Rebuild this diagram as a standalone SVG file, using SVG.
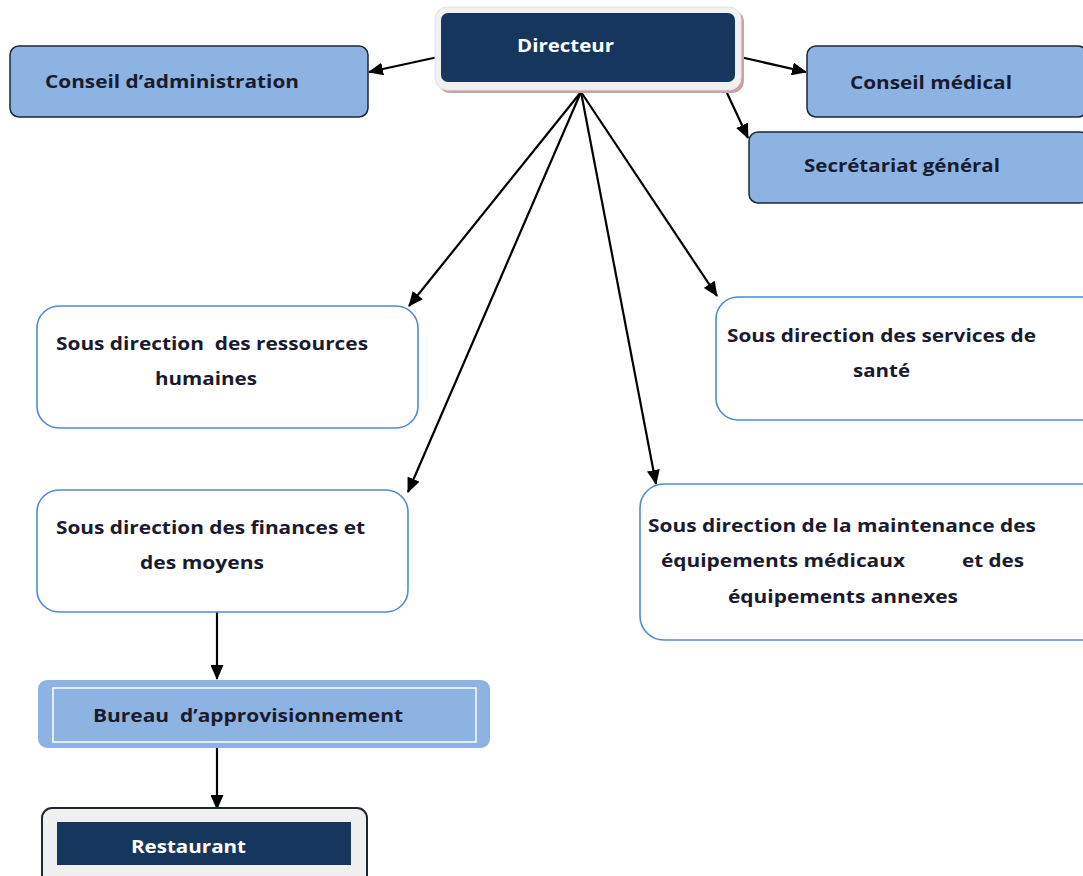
<svg xmlns="http://www.w3.org/2000/svg" width="1083" height="876" viewBox="0 0 1083 876">
<defs>
<marker id="ah" markerUnits="userSpaceOnUse" markerWidth="15" markerHeight="13" refX="14" refY="6.5" orient="auto">
<path d="M0,0 L15,6.5 L0,13 Z" fill="#000"/>
</marker>
<style>
.t{font-family:"Open Sans","Liberation Sans",sans-serif;font-weight:700;font-size:18px;fill:#1a1b2e;white-space:pre}
.w{font-family:"Open Sans","Liberation Sans",sans-serif;font-weight:700;font-size:18px;fill:#ffffff}
.blue{fill:#8db3e2;stroke:#1e2633;stroke-width:1.5}
.sub{fill:#ffffff;stroke:#4f8cd0;stroke-width:1.6}
.c{stroke:#000;stroke-width:2.2;fill:none;marker-end:url(#ah)}
</style>
</defs>
<rect width="1083" height="876" fill="#ffffff"/>
<g id="connectors">
<line class="c" x1="438" y1="57" x2="369" y2="72"/>
<line class="c" x1="740" y1="57" x2="806" y2="72"/>
<line class="c" x1="727" y1="93" x2="748" y2="138"/>
<line class="c" x1="581" y1="92" x2="409" y2="306"/>
<line class="c" x1="581" y1="92" x2="408" y2="492"/>
<line class="c" x1="581" y1="92" x2="656" y2="484"/>
<line class="c" x1="581" y1="92" x2="717" y2="296"/>
<line class="c" x1="217" y1="612" x2="217" y2="679"/>
<line class="c" x1="217" y1="748" x2="217" y2="809"/>
</g>
<g id="directeur">
<rect x="438" y="10" width="306" height="83" rx="12" fill="#c9a3a3"/>
<rect x="435" y="7" width="306" height="83" rx="12" fill="#f1f1f1" stroke="#e2e2e2" stroke-width="1"/>
<rect x="441" y="13" width="294" height="69" rx="7" fill="#17365d"/>
<text class="w" x="517" y="52" textLength="97" lengthAdjust="spacingAndGlyphs">Directeur</text>
</g>
<g id="conseil-administration">
<rect class="blue" x="10" y="46" width="358" height="71" rx="9"/>
<text class="t" x="45" y="88" textLength="254" lengthAdjust="spacingAndGlyphs">Conseil d’administration</text>
</g>
<g id="conseil-medical">
<rect class="blue" x="807" y="46" width="280" height="71" rx="9"/>
<text class="t" x="850" y="89" textLength="162" lengthAdjust="spacingAndGlyphs">Conseil médical</text>
</g>
<g id="secretariat-general">
<rect class="blue" x="749" y="132" width="340" height="71" rx="9"/>
<text class="t" x="804" y="172" textLength="196" lengthAdjust="spacingAndGlyphs">Secrétariat général</text>
</g>
<g id="sd-ressources-humaines">
<rect class="sub" x="37" y="306" width="381" height="122" rx="22"/>
<text class="t" x="56" y="350" xml:space="preserve" textLength="312" lengthAdjust="spacingAndGlyphs">Sous direction  des ressources</text>
<text class="t" x="155" y="385" textLength="102" lengthAdjust="spacingAndGlyphs">humaines</text>
</g>
<g id="sd-finances">
<rect class="sub" x="37" y="490" width="371" height="122" rx="22"/>
<text class="t" x="56" y="534" textLength="309" lengthAdjust="spacingAndGlyphs">Sous direction des finances et</text>
<text class="t" x="140" y="569" textLength="124" lengthAdjust="spacingAndGlyphs">des moyens</text>
</g>
<g id="sd-services-sante">
<rect class="sub" x="716" y="297" width="390" height="123" rx="22"/>
<text class="t" x="727" y="342" textLength="309" lengthAdjust="spacingAndGlyphs">Sous direction des services de</text>
<text class="t" x="853" y="377" textLength="57" lengthAdjust="spacingAndGlyphs">santé</text>
</g>
<g id="sd-maintenance">
<rect class="sub" x="640" y="484" width="466" height="156" rx="24"/>
<text class="t" x="648" y="532" textLength="388" lengthAdjust="spacingAndGlyphs">Sous direction de la maintenance des</text>
<text class="t" x="661" y="567" textLength="244" lengthAdjust="spacingAndGlyphs">équipements médicaux</text>
<text class="t" x="962" y="567" textLength="62" lengthAdjust="spacingAndGlyphs">et des</text>
<text class="t" x="728" y="603" textLength="230" lengthAdjust="spacingAndGlyphs">équipements annexes</text>
</g>
<g id="bureau-approvisionnement">
<rect x="38" y="680" width="452" height="68" rx="9" fill="#8db3e2"/>
<rect x="53" y="688" width="423" height="54" fill="none" stroke="#ffffff" stroke-width="1.5"/>
<text class="t" x="93" y="722" xml:space="preserve" textLength="310" lengthAdjust="spacingAndGlyphs">Bureau  d’approvisionnement</text>
</g>
<g id="restaurant">
<rect x="42" y="808" width="325" height="80" rx="10" fill="#f0f0f0" stroke="#1e2633" stroke-width="2"/>
<rect x="57" y="822" width="294" height="43" fill="#17365d"/>
<text class="w" x="131" y="853" textLength="115" lengthAdjust="spacingAndGlyphs">Restaurant</text>
</g>
</svg>
